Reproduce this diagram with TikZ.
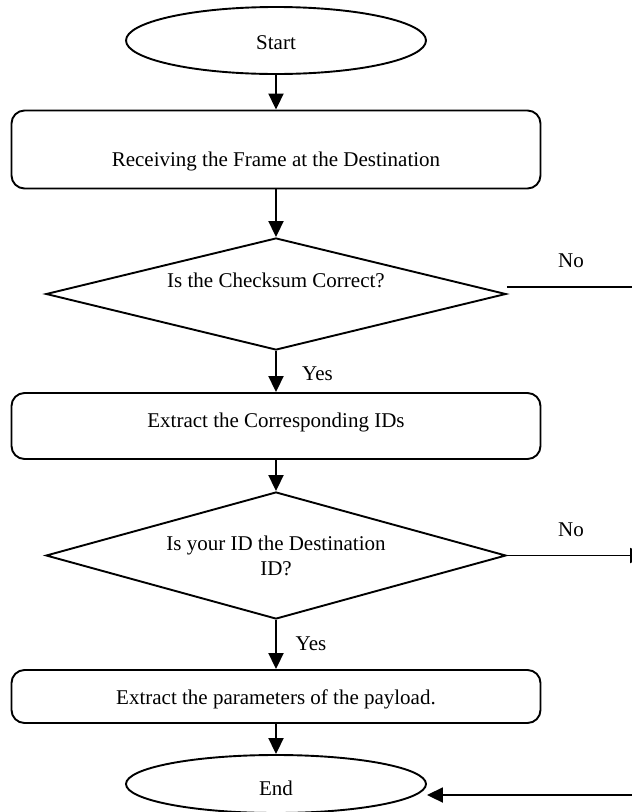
\documentclass[tikz,border=0pt]{standalone}
\usepackage{fontspec}
\setmainfont{Liberation Serif}
\usetikzlibrary{shapes.geometric,arrows.meta}
\begin{document}
\begin{tikzpicture}[x=1pt,y=-1pt,
  every node/.style={font=\fontsize{21}{25}\selectfont},
  flow/.style={draw, line width=1.9pt},
  terminal/.style={flow, ellipse, minimum width=300pt, inner sep=0pt},
  process/.style={flow, rectangle, rounded corners=13pt, minimum width=529pt, inner sep=0pt},
  decision/.style={flow, diamond, minimum width=460pt, inner sep=0pt, aspect=4},
  link/.style={line width=1.9pt, -{Triangle[length=16pt,width=15pt]}},
  plain/.style={line width=1.9pt}
]
\useasboundingbox (0,0) rectangle (632,812);

% flow steps
\node[terminal, minimum height=67pt, text height=17pt, text depth=0pt] (start) at (276,40.5) {Start};
\node[process, minimum height=78pt, text height=39pt, text depth=5pt] (recv) at (276,149.5) {Receiving the Frame at the Destination};
\node[decision, minimum height=112pt, text height=5pt, text depth=19pt] (chk) at (276,294) {Is the Checksum Correct?};
\node[process, minimum height=66pt, text height=8pt, text depth=5pt] (ids) at (276,426) {Extract the Corresponding IDs};
\node[decision, minimum height=127pt, align=center] (dst) at (276,555.5) {Is your ID the Destination\\ID?};
\node[process, minimum height=53pt, text height=21pt, text depth=5pt] (param) at (276,696.5) {Extract the parameters of the payload.};
\node[terminal, minimum height=58pt, text height=27pt, text depth=5pt] (end) at (276,784) {End};

% branch labels
\node (yes1) at (317.5,373.5) {Yes};
\node (yes2) at (311,643.5) {Yes};
\node (no1) at (571,261) {No};
\node (no2) at (571,530) {No};

% main flow
\draw[link] (start.south) -- (recv.north);
\draw[link] (recv.south) -- (chk.north);
\draw[link] (chk.south) -- (ids.north);
\draw[link] (ids.south) -- (dst.north);
\draw[link] (dst.south) -- (param.north);
\draw[link] (param.south) -- (end.north);

% "No" branches leaving to the right, and the return into End
\coordinate (noA) at (640,287);
\draw[plain] (chk.east |- noA) -- (noA);
\coordinate (noB) at (646,555.5);
\draw[link] (dst.east) -- (noB);
\coordinate (ret) at (640,795);
\draw[link] (ret) -- (ret -| end.east);
\end{tikzpicture}
\end{document}
